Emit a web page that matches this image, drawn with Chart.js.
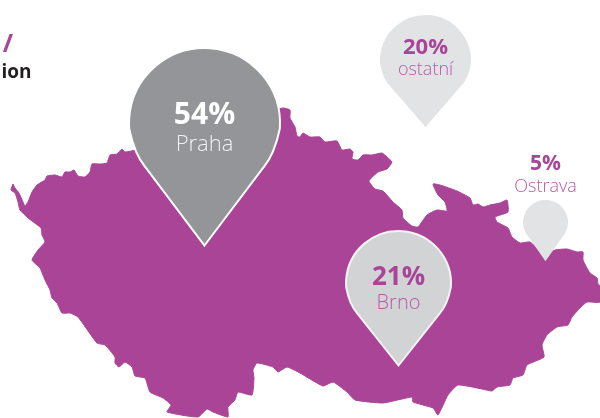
<!DOCTYPE html>
<html><head><meta charset="utf-8">
<style>html,body{margin:0;padding:0;background:#fff}#w{position:relative;width:600px;height:418px;overflow:hidden}</style>
<script src="https://cdn.jsdelivr.net/npm/chart.js@4"></script>
</head><body><div id="w"><canvas id="c" width="600" height="418"></canvas></div>
<script>
const mapX=[13,15,19,23,25,28,32,37,45,47,55,62,65,70,74,78,85,90,92,100,107,110,117,122,125,135,170,240,283,290,290,295,297,300,303,310,320,325,337,342,350,353,352,358,363,372,382,387,392,387,378,369,375,383,393,402,403,412,418,427,437,447,445,438,433,440,457,470,473,478,483,490,500,507,508,495,497,508,512,520,530,545,555,567,577,583,583,590,597,598,600,600,587,580,572,568,557,547,542,544,527,523,513,510,497,492,482,458,448,438,433,413,412,383,355,347,333,323,300,287,278,273,257,253,254,252,238,235,228,228,213,207,198,167,171,163,150,145,135,132,125,119,115,115,105,97,78,70,62,57,52,50,45,40,32,38,45,42,41,28,20,18,15,11,13];
const mapY=[184,188,193,202,206,202,192,185,180,176,175,177,172,172,170,176,177,172,164,164,163,155,154,149,152,150,130,120,108,110,118,127,136,137,133,137,137,142,141,150,149,152,159,160,155,155,153,157,162,169,172,181,189,191,202,210,218,226,227,215,210,211,202,195,184,185,191,198,205,204,207,205,203,200,212,217,222,228,237,243,242,255,250,249,252,252,260,273,278,284,286,302,302,308,317,325,327,335,345,357,365,375,378,385,387,391,389,385,395,415,408,402,397,403,400,392,382,386,373,367,372,367,363,370,378,395,392,400,407,417,412,409,417,412,405,398,392,378,376,367,362,367,363,357,345,343,317,313,313,303,298,290,280,268,260,250,242,235,228,218,210,202,193,190,184];
const cities=['Praha','ostatní','Brno','Ostrava'];
const shares=[54,20,21,5];
const tipX=[204.5,425.5,398.5,545.5];
const tipY=[247,127,367,261];
const pinColors=['#939598','#E1E3E4','#D1D3D4','#E1E3E4'];
const pinOutline=['#FFFFFF','#E1E3E4','#F4F4F4','#E1E3E4'];
const pinR=[75.5,45.5,52.5,22.5];
const pinH=[199,112,136,61];
const shareColor=['#FFFFFF','#AA4499','#AA4499','#AA4499'];
const nameColor=['#F0F0F1','#B95AAA','#B95AAA','#B95AAA'];
const shareBase=[124,54,285,170];
const nameBase=[151,75,309,192];
const shareSize=[30,22,26,21];
const nameSize=[22,18,20,18];
const croppedTitle=[['/',13,52,25,'#AA4499'],['ion',31.5,78,19,'#231F20']];

function pinImage(i){
  const r=pinR[i],h=pinH[i],lw=2,pad=4;
  const W=Math.ceil(2*r+2*pad),H=Math.ceil(2*(h+pad));
  const c=document.createElement('canvas');c.width=W;c.height=H;
  const g=c.getContext('2d');
  const same=pinOutline[i]===pinColors[i];
  const R=same?r-1:r;
  const cx=W/2,ty=H/2,cy=ty-h+r;
  const a=24*Math.PI/180,a0=4*Math.PI/180;
  const lx=R*Math.cos(a),ly=cy+R*Math.sin(a);
  const tip=ty-1.5,t=0.14;
  const qx=lx*(1-t),qy=ly+(tip-ly)*t;
  g.beginPath();
  g.moveTo(cx,tip);
  g.lineTo(cx+qx,qy);
  g.quadraticCurveTo(cx+lx+1,ly,cx+R*Math.cos(a0),cy+R*Math.sin(a0));
  g.arc(cx,cy,R,a0,Math.PI-a0,true);
  g.quadraticCurveTo(cx-lx-1,ly,cx-qx,qy);
  g.closePath();
  g.fillStyle=pinColors[i];g.fill();
  g.lineWidth=lw;g.lineJoin='miter';g.strokeStyle=pinOutline[i];g.stroke();
  return c;
}
const FONT='"Open Sans"';
const labelPlugin={id:'pinLabels',afterDatasetsDraw(ch){
  const g=ch.ctx,x=ch.scales.x,y=ch.scales.y;
  g.save();g.textAlign='center';g.textBaseline='alphabetic';
  cities.forEach((n,i)=>{
    g.fillStyle=shareColor[i];g.font=`700 ${shareSize[i]}px ${FONT}`;
    g.fillText(shares[i]+'%',x.getPixelForValue(tipX[i]),y.getPixelForValue(shareBase[i]));
    g.fillStyle=nameColor[i];g.font=`300 ${nameSize[i]}px ${FONT}`;
    g.fillText(n,x.getPixelForValue(tipX[i]),y.getPixelForValue(nameBase[i]));
  });
  g.textAlign='right';
  croppedTitle.forEach(t=>{g.fillStyle=t[4];g.font=`700 ${t[3]}px ${FONT}`;g.fillText(t[0],x.getPixelForValue(t[1]),y.getPixelForValue(t[2]));});
  g.restore();
}};
new Chart(document.getElementById('c'),{
  type:'scatter',
  data:{datasets:[
    {label:'Podíl',data:tipX.map((v,i)=>({x:v,y:tipY[i]})),pointStyle:cities.map((_,i)=>pinImage(i)),showLine:false,clip:false},
    {label:'Mapa',data:mapX.map((v,i)=>({x:v,y:mapY[i]})),showLine:true,fill:'shape',backgroundColor:'#A94497',borderColor:'#A94497',borderWidth:1,pointRadius:0,tension:0.15}
  ]},
  options:{responsive:false,animation:false,layout:{padding:0,autoPadding:false},
    plugins:{legend:{display:false},tooltip:{enabled:false},title:{display:false}},
    scales:{x:{type:'linear',min:0,max:600,display:false},y:{type:'linear',min:0,max:418,reverse:true,display:false}}},
  plugins:[labelPlugin]
});
</script></body></html>
